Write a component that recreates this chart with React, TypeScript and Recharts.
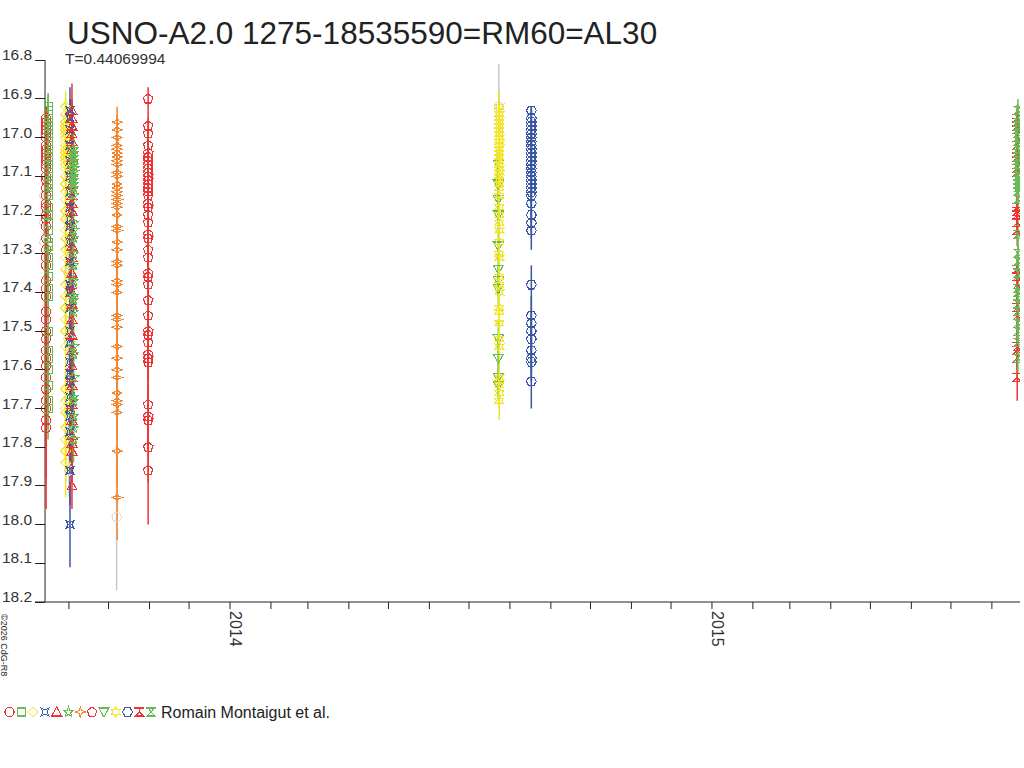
import { ScatterChart, Scatter, XAxis, YAxis, ErrorBar, ReferenceLine } from 'recharts'

const FONT = "'Liberation Sans', Arial, sans-serif"

// epochs are days since 2014-01-01 UT
const monthTicks = [-122, -92, -61, -31, 0, 31, 59, 90, 120, 151, 181, 212, 243, 273, 304, 334, 365, 396, 424, 455, 485, 516, 546, 577]
const yearLabels: { [day: number]: string } = { 0: '2014', 365: '2015' }
const magTicks = [16.8, 16.9, 17.0, 17.1, 17.2, 17.3, 17.4, 17.5, 17.6, 17.7, 17.8, 17.9, 18.0, 18.1, 18.2]

const X_MIN = -147.7
const X_MAX = 598.3
const Y_AXIS_DAY = -140.1

// red circles
const circleDay = -139.3
const circleMags = [16.95, 16.96, 16.97, 16.98, 16.99, 17.0, 17.02, 17.03, 17.04, 17.05, 17.06, 17.07, 17.08, 17.1, 17.11, 17.13, 17.15, 17.17, 17.18, 17.2, 17.21, 17.23, 17.26, 17.29, 17.31, 17.33, 17.37, 17.39, 17.41, 17.45, 17.47, 17.5, 17.52, 17.55, 17.57, 17.59, 17.62, 17.65, 17.68, 17.7, 17.73, 17.75]
const circleErrs = [0.03, 0.04, 0.04, 0.03, 0.04, 0.04, 0.03, 0.04, 0.04, 0.04, 0.03, 0.04, 0.04, 0.04, 0.04, 0.04, 0.05, 0.04, 0.05, 0.04, 0.05, 0.05, 0.05, 0.05, 0.05, 0.06, 0.05, 0.06, 0.05, 0.06, 0.06, 0.06, 0.06, 0.07, 0.06, 0.07, 0.07, 0.08, 0.08, 0.1, 0.15, 0.21]

// green squares
const squareDay = -137.8
const squareMags = [16.92, 16.93, 16.95, 16.96, 16.97, 16.98, 17.0, 17.01, 17.02, 17.03, 17.05, 17.06, 17.07, 17.08, 17.09, 17.1, 17.11, 17.12, 17.14, 17.15, 17.18, 17.2, 17.22, 17.24, 17.27, 17.28, 17.31, 17.33, 17.36, 17.39, 17.41, 17.5, 17.55, 17.57, 17.6, 17.64, 17.68, 17.7]
const squareErrs = [0.035, 0.04, 0.04, 0.03, 0.04, 0.04, 0.04, 0.03, 0.04, 0.04, 0.04, 0.04, 0.04, 0.04, 0.04, 0.04, 0.04, 0.04, 0.04, 0.05, 0.04, 0.05, 0.05, 0.05, 0.05, 0.05, 0.05, 0.05, 0.06, 0.05, 0.06, 0.06, 0.06, 0.06, 0.06, 0.07, 0.07, 0.08]

// yellow diamonds
const diamondDay = -124.5
const diamondMags = [16.92, 16.94, 16.96, 16.97, 16.98, 16.99, 17.0, 17.01, 17.02, 17.03, 17.04, 17.05, 17.06, 17.07, 17.08, 17.1, 17.12, 17.14, 17.16, 17.19, 17.21, 17.24, 17.26, 17.29, 17.31, 17.34, 17.38, 17.41, 17.44, 17.47, 17.5, 17.54, 17.65, 17.68, 17.7, 17.71, 17.75, 17.78, 17.81, 17.84]
const diamondErrs = [0.04, 0.04, 0.04, 0.04, 0.04, 0.04, 0.04, 0.04, 0.04, 0.04, 0.04, 0.04, 0.04, 0.04, 0.04, 0.04, 0.04, 0.05, 0.05, 0.05, 0.05, 0.05, 0.05, 0.05, 0.05, 0.06, 0.06, 0.06, 0.06, 0.06, 0.06, 0.07, 0.07, 0.07, 0.07, 0.08, 0.08, 0.08, 0.08, 0.09]

// blue bow-ties
const bowtieDay = -121.2
const bowtieMags = [16.93, 16.95, 16.98, 17.02, 17.06, 17.1, 17.14, 17.18, 17.21, 17.23, 17.27, 17.32, 17.38, 17.4, 17.44, 17.5, 17.53, 17.58, 17.61, 17.63, 17.67, 17.7, 17.72, 17.76, 17.86, 18.0]
const bowtieErrs = [0.06, 0.05, 0.05, 0.05, 0.05, 0.05, 0.05, 0.05, 0.05, 0.05, 0.05, 0.05, 0.06, 0.06, 0.06, 0.06, 0.06, 0.06, 0.07, 0.07, 0.07, 0.07, 0.08, 0.08, 0.09, 0.11]

// red triangles
const triangleDay = -119.7
const triangleMags = [16.93, 16.95, 16.97, 16.99, 17.01, 17.03, 17.05, 17.07, 17.09, 17.12, 17.15, 17.17, 17.19, 17.22, 17.25, 17.28, 17.31, 17.35, 17.38, 17.4, 17.43, 17.47, 17.51, 17.55, 17.59, 17.62, 17.64, 17.69, 17.73, 17.77, 17.79, 17.81, 17.9]
const triangleErrs = [0.07, 0.05, 0.05, 0.05, 0.05, 0.05, 0.05, 0.05, 0.05, 0.05, 0.05, 0.05, 0.05, 0.05, 0.05, 0.05, 0.06, 0.06, 0.06, 0.06, 0.06, 0.06, 0.06, 0.07, 0.07, 0.07, 0.07, 0.07, 0.08, 0.08, 0.08, 0.08, 0.06]

// green stars
const starDay = -118.6
const starMags = [17.03, 17.04, 17.05, 17.06, 17.07, 17.08, 17.09, 17.1, 17.11, 17.12, 17.13, 17.15, 17.22, 17.24, 17.26, 17.3, 17.33, 17.37, 17.41, 17.42, 17.45, 17.54, 17.56, 17.62, 17.67, 17.68, 17.72, 17.75, 17.78]
const starErrs = [0.04, 0.04, 0.04, 0.04, 0.04, 0.04, 0.04, 0.04, 0.04, 0.04, 0.04, 0.04, 0.05, 0.05, 0.05, 0.05, 0.05, 0.05, 0.05, 0.05, 0.05, 0.06, 0.06, 0.06, 0.06, 0.06, 0.06, 0.06, 0.06]

// orange 4-point stars
const crossDay = -85.5
const crossMags = [16.96, 16.98, 17.0, 17.02, 17.03, 17.04, 17.05, 17.06, 17.07, 17.09, 17.1, 17.12, 17.13, 17.14, 17.15, 17.16, 17.17, 17.18, 17.2, 17.23, 17.24, 17.27, 17.29, 17.32, 17.33, 17.37, 17.38, 17.4, 17.46, 17.47, 17.49, 17.54, 17.57, 17.6, 17.62, 17.66, 17.68, 17.69, 17.71, 17.81, 17.93]
const crossErrs = [0.04, 0.04, 0.04, 0.04, 0.04, 0.04, 0.04, 0.04, 0.04, 0.04, 0.04, 0.04, 0.04, 0.04, 0.04, 0.04, 0.04, 0.05, 0.05, 0.05, 0.05, 0.05, 0.05, 0.05, 0.05, 0.06, 0.06, 0.06, 0.06, 0.06, 0.06, 0.07, 0.07, 0.07, 0.07, 0.07, 0.08, 0.08, 0.08, 0.09, 0.11]

// red pentagons
const pentagonDay = -62.0
const pentagonMags = [16.9, 16.97, 16.99, 17.02, 17.04, 17.05, 17.06, 17.07, 17.08, 17.09, 17.1, 17.11, 17.12, 17.13, 17.14, 17.15, 17.17, 17.18, 17.2, 17.22, 17.25, 17.26, 17.29, 17.31, 17.35, 17.36, 17.38, 17.42, 17.46, 17.5, 17.51, 17.53, 17.56, 17.57, 17.58, 17.69, 17.72, 17.73, 17.8, 17.86]
const pentagonErrs = [0.03, 0.04, 0.04, 0.04, 0.04, 0.04, 0.04, 0.04, 0.04, 0.04, 0.04, 0.04, 0.04, 0.04, 0.04, 0.04, 0.04, 0.05, 0.05, 0.05, 0.05, 0.05, 0.05, 0.05, 0.05, 0.05, 0.06, 0.06, 0.06, 0.06, 0.06, 0.06, 0.06, 0.06, 0.07, 0.07, 0.08, 0.08, 0.09, 0.14]

// green down triangles
const downDay = 203.2
const downMags = [17.07, 17.12, 17.16, 17.2, 17.28, 17.34, 17.37, 17.39, 17.52, 17.57, 17.62, 17.64]
const downErrs = [0.04, 0.04, 0.04, 0.04, 0.04, 0.04, 0.04, 0.05, 0.05, 0.05, 0.05, 0.04]

// yellow 6-point stars
const sixDay = 203.9
const sixMags = [16.92, 16.94, 16.95, 16.96, 16.97, 16.98, 16.99, 17.0, 17.01, 17.02, 17.03, 17.04, 17.05, 17.06, 17.07, 17.08, 17.09, 17.1, 17.11, 17.12, 17.13, 17.15, 17.18, 17.2, 17.22, 17.24, 17.27, 17.3, 17.31, 17.36, 17.38, 17.4, 17.44, 17.45, 17.48, 17.52, 17.54, 17.62, 17.64, 17.66, 17.68]
const sixErrs = [0.04, 0.03, 0.03, 0.03, 0.03, 0.03, 0.03, 0.03, 0.03, 0.03, 0.03, 0.03, 0.03, 0.03, 0.03, 0.03, 0.03, 0.03, 0.03, 0.03, 0.04, 0.04, 0.04, 0.04, 0.04, 0.04, 0.04, 0.04, 0.04, 0.04, 0.04, 0.04, 0.04, 0.04, 0.04, 0.04, 0.04, 0.04, 0.04, 0.04, 0.05]

// blue hexagons
const hexDay = 228.2
const hexMags = [16.93, 16.95, 16.96, 16.97, 16.98, 16.99, 17.0, 17.01, 17.02, 17.03, 17.04, 17.05, 17.06, 17.07, 17.08, 17.09, 17.1, 17.11, 17.12, 17.13, 17.14, 17.15, 17.17, 17.2, 17.22, 17.24, 17.38, 17.46, 17.48, 17.5, 17.52, 17.55, 17.57, 17.58, 17.63]
const hexErrs = [0.01, 0.03, 0.03, 0.03, 0.03, 0.03, 0.03, 0.03, 0.03, 0.03, 0.03, 0.03, 0.03, 0.03, 0.03, 0.03, 0.03, 0.03, 0.03, 0.03, 0.03, 0.03, 0.04, 0.04, 0.04, 0.05, 0.05, 0.05, 0.05, 0.05, 0.05, 0.05, 0.05, 0.05, 0.07]

// red barred triangles
const redBarDay = 596.2
const redBarMags = [16.95, 16.96, 16.97, 16.98, 17.0, 17.02, 17.04, 17.05, 17.06, 17.08, 17.09, 17.18, 17.19, 17.2, 17.22, 17.24, 17.34, 17.36, 17.38, 17.44, 17.46, 17.54, 17.55, 17.57, 17.62]
const redBarErrs = [0.035, 0.03, 0.03, 0.03, 0.03, 0.03, 0.03, 0.03, 0.03, 0.03, 0.03, 0.04, 0.04, 0.04, 0.04, 0.04, 0.04, 0.04, 0.05, 0.05, 0.05, 0.05, 0.05, 0.05, 0.06]

// green barred hourglasses
const greenBarDay = 596.7
const greenBarMags = [16.93, 16.95, 16.96, 16.97, 16.98, 16.99, 17.0, 17.01, 17.02, 17.03, 17.04, 17.05, 17.06, 17.07, 17.08, 17.09, 17.1, 17.11, 17.12, 17.13, 17.14, 17.16, 17.25, 17.3, 17.32, 17.35, 17.39, 17.4, 17.43, 17.45, 17.48, 17.5, 17.53, 17.57]
const greenBarErrs = [0.03, 0.03, 0.03, 0.03, 0.03, 0.03, 0.03, 0.03, 0.03, 0.03, 0.03, 0.03, 0.03, 0.03, 0.03, 0.03, 0.03, 0.03, 0.03, 0.03, 0.04, 0.04, 0.04, 0.04, 0.04, 0.04, 0.04, 0.04, 0.04, 0.04, 0.04, 0.04, 0.04, 0.04]

// faint (rejected) measurements, not in legend
const faintDays = [-140.6, -140.6, -140.6, -122.4, -122.4, -121.8, -121.8, -85.9, 203.6]
const faintMags = [17.15, 17.22, 17.27, 17.35, 17.52, 17.76, 17.86, 17.98, 16.92]
const faintErrs = [0.04, 0.04, 0.05, 0.05, 0.06, 0.07, 0.07, 0.19, 0.11]

const series = [
  { day: circleDay, mags: circleMags, errs: circleErrs },
  { day: squareDay, mags: squareMags, errs: squareErrs },
  { day: diamondDay, mags: diamondMags, errs: diamondErrs },
  { day: bowtieDay, mags: bowtieMags, errs: bowtieErrs },
  { day: triangleDay, mags: triangleMags, errs: triangleErrs },
  { day: starDay, mags: starMags, errs: starErrs },
  { day: crossDay, mags: crossMags, errs: crossErrs },
  { day: pentagonDay, mags: pentagonMags, errs: pentagonErrs },
  { day: downDay, mags: downMags, errs: downErrs },
  { day: sixDay, mags: sixMags, errs: sixErrs },
  { day: hexDay, mags: hexMags, errs: hexErrs },
  { day: redBarDay, mags: redBarMags, errs: redBarErrs },
  { day: greenBarDay, mags: greenBarMags, errs: greenBarErrs },
]

const RED = '#ee3333'
const GREEN = '#66bb55'
const YELLOW = '#f2e52a'
const BLUE = '#3a57a6'
const ORANGE = '#f5862e'

const styles = [
  { color: RED, kind: 'circle' },
  { color: GREEN, kind: 'square' },
  { color: YELLOW, kind: 'diamond' },
  { color: BLUE, kind: 'bowtie' },
  { color: RED, kind: 'triUp' },
  { color: GREEN, kind: 'star5' },
  { color: ORANGE, kind: 'star4' },
  { color: RED, kind: 'pentagon' },
  { color: GREEN, kind: 'triDown' },
  { color: YELLOW, kind: 'star6' },
  { color: BLUE, kind: 'hexagon' },
  { color: RED, kind: 'barTri' },
  { color: GREEN, kind: 'barGlass' },
]

function polar(n: number, r: number, r2: number | null, rot: number) {
  const pts: string[] = []
  const count = r2 == null ? n : n * 2
  for (let i = 0; i < count; i++) {
    const rr = r2 == null || i % 2 === 0 ? r : r2
    const a = ((rot + (i * 360) / count) * Math.PI) / 180
    pts.push(`${(rr * Math.cos(a)).toFixed(2)},${(rr * Math.sin(a)).toFixed(2)}`)
  }
  return 'M' + pts.join('L') + 'Z'
}

const paths: { [k: string]: string } = {
  square: 'M-4,-4H4V4H-4Z',
  diamond: 'M0,-5L5,0L0,5L-5,0Z',
  bowtie: 'M-4,-4L0,-2L4,-4L2,0L4,4L0,2L-4,4L-2,0Z',
  triUp: 'M0,-5L5,4L-5,4Z',
  star5: polar(5, 5.2, 2.3, -90),
  star4: 'M0,-5L1.4,-1.4L5,0L1.4,1.4L0,5L-1.4,1.4L-5,0L-1.4,-1.4Z',
  pentagon: polar(5, 5, null, -90),
  triDown: 'M-5,-4L5,-4L0,5Z',
  star6: polar(6, 5, 2.6, -90),
  hexagon: polar(6, 5, null, 0),
  barTri: 'M-5,-4H5M0,-4V0M0,0L-4,4H4Z',
  barGlass: 'M-5,-4H5M-3,-4L0,0L3,-4M0,0L-4,4H4Z',
}

function Mark({ cx, cy, kind, color }: { cx: number; cy: number; kind: string; color: string }) {
  if (cx == null || cy == null) return null
  if (kind === 'circle') {
    return <circle cx={cx} cy={cy} r={4.6} fill="none" stroke={color} strokeWidth={1.1} shapeRendering="crispEdges" />
  }
  return (
    <path
      transform={`translate(${cx},${cy})`}
      d={paths[kind]}
      fill="none"
      stroke={color}
      strokeWidth={1.1}
      shapeRendering="crispEdges"
    />
  )
}

const YTick = (props: any) => {
  const { y, payload } = props
  return (
    <g>
      <line x1={35} x2={45} y1={y} y2={y} stroke="#222" shapeRendering="crispEdges" />
      <text x={2} y={y} fontSize={15.5} fill="#333" fontFamily={FONT}>
        {Number(payload.value).toFixed(1)}
      </text>
    </g>
  )
}

const XTick = (props: any) => {
  const { x, y, payload } = props
  const label = yearLabels[payload.value]
  if (!label) return null
  return (
    <text
      x={x}
      y={y}
      transform={`rotate(90 ${x} ${y})`}
      fontSize={16}
      fill="#333"
      fontFamily={FONT}
    >
      {label}
    </text>
  )
}

export default function App() {
  const faintData = faintDays.map((d, i) => ({ day: d, mag: faintMags[i], err: faintErrs[i] }))

  return (
    <div style={{ position: 'absolute', left: 0, top: 0, width: 1024, height: 768, background: '#fff' }}>
      <ScatterChart
        width={1024}
        height={768}
        margin={{ top: 60.2, right: 4, bottom: 106, left: 0 }}
      >
        <XAxis
          type="number"
          dataKey="day"
          domain={[X_MIN, X_MAX]}
          ticks={monthTicks}
          interval={0}
          height={60}
          tickSize={7}
          axisLine={{ stroke: '#222' }}
          tickLine={{ stroke: '#222' }}
          tick={<XTick />}
          allowDataOverflow
        />
        <YAxis
          type="number"
          dataKey="mag"
          reversed
          domain={[16.8, 18.2]}
          ticks={magTicks}
          interval={0}
          width={35}
          axisLine={false}
          tickLine={false}
          tick={<YTick />}
          allowDataOverflow
        />
        <ReferenceLine x={Y_AXIS_DAY} stroke="#222" />
        <Scatter
          data={faintData}
          isAnimationActive={false}
          shape={(p: any) => <Mark cx={p.cx} cy={p.cy} kind="circle" color="#dcdcdc" />}
        >
          <ErrorBar dataKey="err" direction="y" width={0} stroke="#c8c8c8" isAnimationActive={false} />
        </Scatter>
        {series.map((s, idx) => {
          const st = styles[idx]
          const data = s.mags.map((m, i) => ({ day: s.day, mag: m, err: s.errs[i] }))
          return (
            <Scatter
              key={idx}
              data={data}
              isAnimationActive={false}
              shape={(p: any) => <Mark cx={p.cx} cy={p.cy} kind={st.kind} color={st.color} />}
            >
              <ErrorBar dataKey="err" direction="y" width={0} stroke={st.color} isAnimationActive={false} />
            </Scatter>
          )
        })}
      </ScatterChart>
      <svg
        width={1024}
        height={768}
        style={{ position: 'absolute', left: 0, top: 0, pointerEvents: 'none' }}
        fontFamily={FONT}
      >
        <text x={67} y={44} fontSize={31.5} fill="#222">
          USNO-A2.0 1275-18535590=RM60=AL30
        </text>
        <text x={65} y={64} fontSize={15.5} fill="#333">
          T=0.44069994
        </text>
        <text x={1} y={614} fontSize={9} fill="#222" transform="rotate(90 1 614)">
          ©2026 CdG-R8
        </text>
        {styles.map((st, i) => (
          <Mark key={i} cx={9.5 + i * 11.8} cy={712} kind={st.kind} color={st.color} />
        ))}
        <text x={161} y={718} fontSize={16} fill="#222">
          Romain Montaigut et al.
        </text>
      </svg>
    </div>
  )
}
